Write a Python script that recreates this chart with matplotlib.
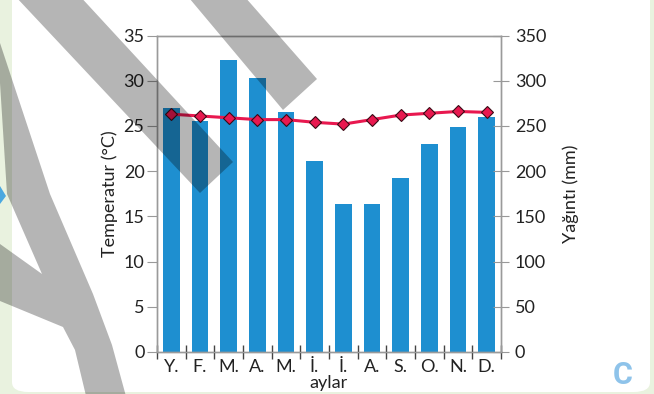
import matplotlib
matplotlib.use("Agg")
import matplotlib.pyplot as plt
import numpy as np
from matplotlib.patches import FancyBboxPatch, Polygon

plt.rcParams['font.family'] = ['Lato', 'DejaVu Sans']

# ===== Data =====
months = ['Y.', 'F.', 'M.', 'A.', 'M.', 'İ.', 'İ.', 'A.', 'S.', 'O.', 'N.', 'D.']
rain = [270, 255, 323, 303, 265, 211, 164, 164, 192, 230, 249, 260]          # mm
temp = [26.3, 26.1, 25.9, 25.7, 25.7, 25.4, 25.2, 25.7, 26.2, 26.4, 26.6, 26.5]  # °C

W, H = 654, 394

# decoration (watermark bands), pixel coords from the top-left corner
band_a = [(174, -20), (283, 110), (317, 79), (230, -20)]
band_b = [(0, -20), (200, 193), (233, 162), (65, -20)]
band_y = [(0, 43), (50, 194), (93, 294), (112, 345), (127, 400), (87, 400),
          (75, 350), (63, 327), (0, 301), (0, 244), (42, 274), (7, 194), (0, 83)]
arrow = [(0, 186), (6, 196), (0, 204)]


def px(points):
    return [(x / W, 1 - y / H) for x, y in points]


fig = plt.figure(figsize=(W / 100, H / 100), dpi=100)
fig.patch.set_facecolor('#e9f2df')

panel = FancyBboxPatch((12 / W, 2 / H), 638 / W, 402 / H,
                       boxstyle="round,pad=0,rounding_size=0.025",
                       transform=fig.transFigure, facecolor='white',
                       edgecolor='none', zorder=-2)
fig.patches.append(panel)
fig.patches.append(Polygon(px(arrow), closed=True, transform=fig.transFigure,
                           facecolor='#4aa8e0', edgecolor='none', zorder=-1))

ax = fig.add_axes([157 / W, 1 - 352 / H, 344 / W, 316.5 / H])
ax2 = ax.twinx()
ax.set_zorder(ax2.get_zorder() + 1)
ax.patch.set_visible(False)
ax2.patch.set_visible(False)

x = np.arange(len(months))
ax2.bar(x, rain, width=0.57, color='#1e8fd0')
ax.plot(x, temp, color='#e8184f', lw=2.2, marker='D', markersize=6.5,
        markerfacecolor='#e8184f', markeredgecolor='#3a0a15', markeredgewidth=0.8)

ax.set_xlim(-0.5, 11.5)
ax.set_ylim(0, 35)
ax2.set_ylim(0, 350)
ax.set_yticks(range(0, 36, 5))
ax2.set_yticks(range(0, 351, 50))

ax.set_xticks(x)
ax.set_xticklabels(months)
ax.set_xticks(np.arange(-0.5, 12, 1), minor=True)
ax.tick_params(axis='x', which='major', length=0, pad=5, labelsize=13, labelcolor='#222222')
ax.tick_params(axis='x', which='minor', direction='inout', length=10, color='#444444', width=1)
ax.tick_params(axis='y', direction='out', length=7, pad=2, color='#999999',
               labelsize=13, labelcolor='#222222')
ax2.tick_params(axis='y', direction='inout', length=12, pad=4, color='#999999',
                labelsize=13, labelcolor='#222222')

for a in (ax, ax2):
    for s in a.spines.values():
        s.set_color('#9a9a9a')
        s.set_linewidth(1)

ax.set_ylabel('Temperatur (°C)', fontsize=13, color='#222222', labelpad=4)
ax2.set_ylabel('Yağıntı (mm)', fontsize=13, color='#222222', labelpad=12)
ax.set_xlabel('aylar', fontsize=13, color='#222222', labelpad=0)

fig.text(623 / W, 1 - 375 / H, 'C', fontsize=22, fontweight='bold',
         color='#8ec3ea', ha='center', va='center', family='Roboto')

# watermark bands on top (black with alpha = multiply by gray)
for band in (band_a, band_b, band_y):
    fig.patches.append(Polygon(px(band), closed=True, transform=fig.transFigure,
                               facecolor='black', alpha=0.29, edgecolor='none',
                               zorder=10))

fig.savefig('out.png', dpi=100)
